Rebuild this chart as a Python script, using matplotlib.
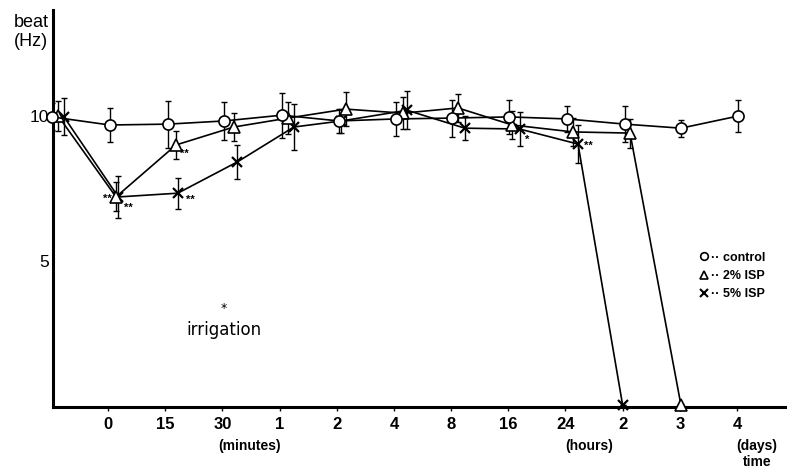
import matplotlib
matplotlib.use("Agg")
import matplotlib.pyplot as plt
from matplotlib.lines import Line2D
from matplotlib.transforms import blended_transform_factory

plt.rcParams['font.family'] = ['Liberation Sans', 'DejaVu Sans']

# time axis: categories placed at 0..11, pre-irrigation value at -1
tick_labels = ['0', '15', '30', '1', '2', '4', '8', '16', '24', '2', '3', '4']
unit_labels = ['(minutes)', '(hours)', '(days)']
unit_pos = [2.48, 8.41, 11.35]

# control
x_ctrl = [-0.98, 0.03, 1.05, 2.03, 3.04, 4.04, 5.04, 6.02, 7.01, 8.03, 9.04, 10.02, 11.02]
y_ctrl = [9.97, 9.69, 9.72, 9.83, 10.03, 9.83, 9.90, 9.93, 9.97, 9.90, 9.72, 9.58, 10.0]
e_ctrl = [0.47, 0.60, 0.81, 0.66, 0.78, 0.43, 0.60, 0.64, 0.60, 0.45, 0.62, 0.30, 0.55]

# 2% ISP
x_isp2 = [-0.87, 0.14, 1.19, 2.20, 3.15, 4.16, 5.16, 6.12, 7.07, 8.13, 9.13, 10.02]
y_isp2 = [10.0, 7.20, 9.00, 9.62, 9.93, 10.24, 10.10, 10.28, 9.69, 9.45, 9.41, 0.0]
e_isp2 = [0.52, 0.50, 0.48, 0.50, 0.55, 0.59, 0.55, 0.47, 0.48, 0.47, 0.50, 0.0]

# 5% ISP
x_isp5 = [-0.77, 0.18, 1.22, 2.26, 3.25, 4.08, 5.23, 6.24, 7.20, 8.22, 9.00]
y_isp5 = [9.97, 7.20, 7.33, 8.41, 9.62, 9.83, 10.20, 9.58, 9.55, 9.03, 0.0]
e_isp5 = [0.64, 0.74, 0.54, 0.59, 0.78, 0.40, 0.66, 0.42, 0.60, 0.66, 0.0]

# significance marks: (series, point index, text, offset in points, ha)
stars = [
    ('isp2', 1, '**', (-3, -1.5), 'right'),
    ('isp5', 1, '**', (4, -8), 'left'),
    ('isp2', 2, '**', (3, -6.5), 'left'),
    ('isp5', 2, '**', (6, -5), 'left'),
    ('isp5', 8, '*', (4, -8), 'left'),
    ('isp5', 9, '**', (4, -1), 'left'),
]

fig = plt.figure(figsize=(7.87, 4.71), dpi=100)
ax = fig.add_axes([53 / 787, 64 / 471, 734 / 787, 397 / 471])

series = {
    'isp5': (x_isp5, y_isp5, e_isp5, 'x', 7, 1.6),
    'isp2': (x_isp2, y_isp2, e_isp2, '^', 8, 1.2),
    'ctrl': (x_ctrl, y_ctrl, e_ctrl, 'o', 8, 1.2),
}
for z, key in enumerate(['isp5', 'isp2', 'ctrl']):
    xs, ys, es, m, ms, mew = series[key]
    ax.errorbar(xs, ys, yerr=es, fmt='none', ecolor='k', elinewidth=1,
                capsize=2.5, capthick=1, zorder=2 + z)
    ax.plot(xs, ys, color='k', lw=1.2, marker=m, ms=ms, mfc='white',
            mec='k', mew=mew, clip_on=False, zorder=5 + z)

for key, i, txt, off, ha in stars:
    xs, ys = series[key][0], series[key][1]
    ax.annotate(txt, (xs[i], ys[i]), xytext=off, textcoords='offset points',
                ha=ha, va='center', fontsize=8, weight='bold')

ax.text(2.03, 3.35, '*', ha='center', va='center', fontsize=9,
        family='DejaVu Sans')
ax.text(2.03, 2.6, 'irrigation', ha='center', va='center', fontsize=12,
        family='DejaVu Sans')

ax.set_xlim(-0.962, 11.875)
ax.set_ylim(-0.07, 13.67)
ax.set_xticks(range(len(tick_labels)))
ax.set_xticklabels(tick_labels, fontsize=12, weight='bold')
ax.set_yticks([5, 10])
ax.set_yticklabels(['5', '10'], fontsize=12.5)
ax.tick_params(axis='x', direction='out', length=3, width=1, pad=4)
ax.tick_params(axis='y', length=0, pad=3)

for s in ['top', 'right']:
    ax.spines[s].set_visible(False)
for s in ['left', 'bottom']:
    ax.spines[s].set_linewidth(2.2)

trans = blended_transform_factory(ax.transData, ax.transAxes)
for lab, xp in zip(unit_labels, unit_pos):
    ax.text(xp, -0.098, lab, transform=trans, ha='center', va='center',
            fontsize=10, weight='bold')
ax.text(11.35, -0.138, 'time', transform=trans, ha='center', va='center',
        fontsize=10, weight='bold')

ax.text(-0.006, 0.945, 'beat\n(Hz)', transform=ax.transAxes, ha='right',
        va='center', multialignment='center', fontsize=13)

handles = [
    Line2D([], [], ls='none', marker='o', ms=5.5, mfc='white', mec='k', mew=1.2),
    Line2D([], [], ls='none', marker='^', ms=5.5, mfc='white', mec='k', mew=1.2),
    Line2D([], [], ls='none', marker='x', ms=6, mec='k', mew=1.5),
]
labels = ['\u00b7\u00b7 control', '\u00b7\u00b7 2% ISP', '\u00b7\u00b7 5% ISP']
ax.legend(handles, labels, loc='center left', bbox_to_anchor=(0.88, 0.33),
          frameon=False, handlelength=0.8, handletextpad=0.2,
          labelspacing=0.5, borderpad=0, borderaxespad=0,
          prop=dict(weight='bold', size=9))

fig.savefig('out.png', dpi=100)
